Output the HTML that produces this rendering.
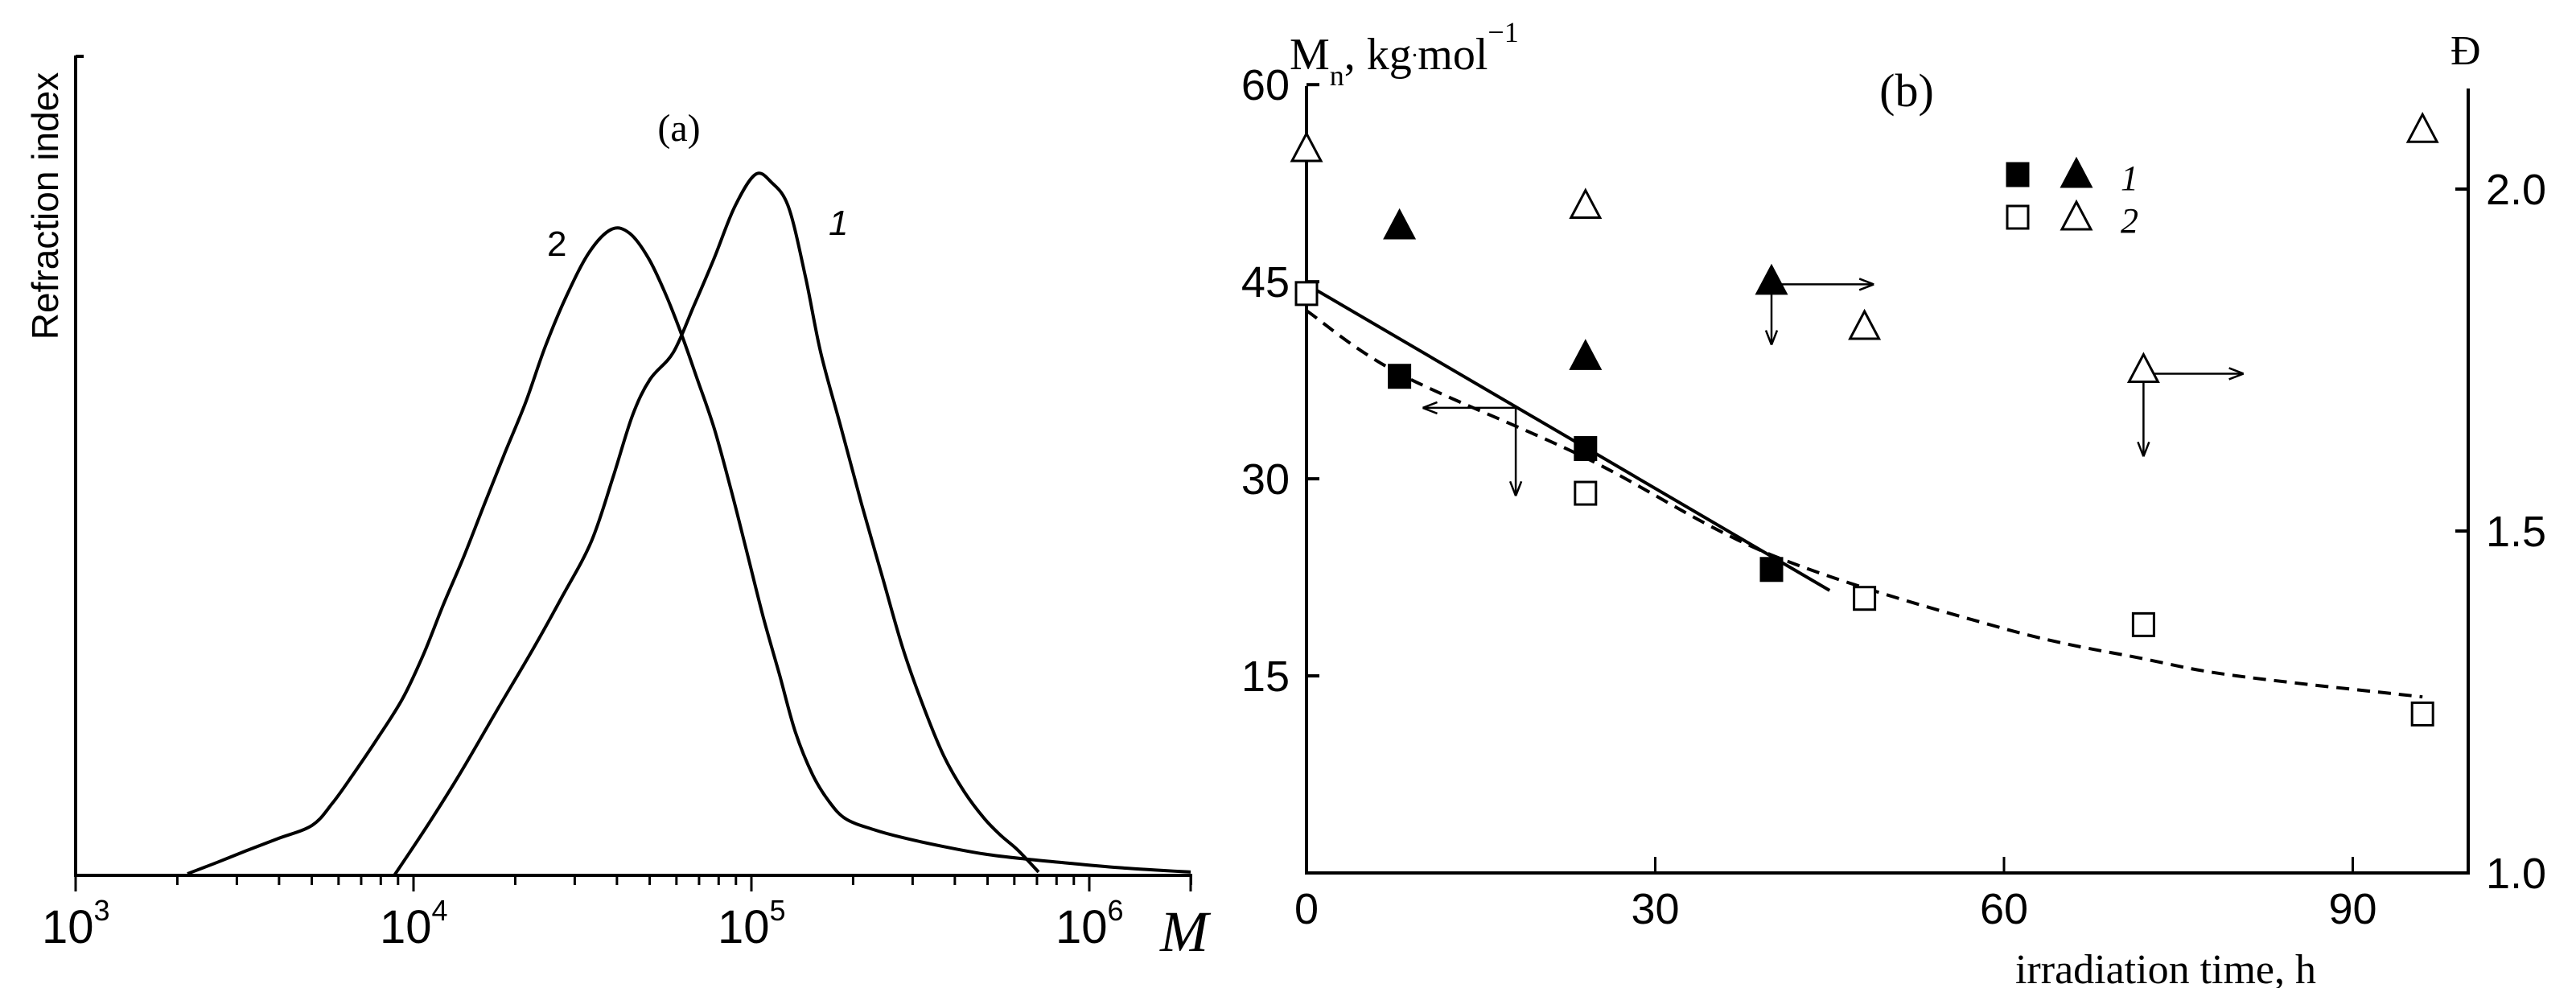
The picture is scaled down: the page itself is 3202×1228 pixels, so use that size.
<!DOCTYPE html>
<html><head><meta charset="utf-8"><style>
html,body{margin:0;padding:0;background:#fff}
svg{display:block}
.s{font-family:"Liberation Sans",sans-serif}
.r{font-family:"Liberation Serif",serif}
</style></head><body>
<svg id="c" width="3202" height="1228" viewBox="0 0 3202 1228" xmlns="http://www.w3.org/2000/svg">
<g id="pa"></g>
<g id="pb"></g>
</svg>
<script>
// ---- Panel (a) data: log10(M) and signal (0..100) ----
const curve1LogM = [3.943,4.040,4.136,4.245,4.355,4.440,4.526,4.590,4.648,4.700,4.769,4.830,4.890,4.950,5.012,5.060,5.110,5.160,5.205,5.266,5.326,5.387,5.448,5.510,5.569,5.630,5.690,5.740,5.788,5.850];
const curve1Val  = [0,6.0,12.3,20.0,27.7,34.0,40.7,48.5,56.1,60.5,63.8,69.5,75.3,81.5,85.5,84.5,81.5,73.0,63.8,54.5,45.3,36.5,27.7,20.5,14.6,10.2,6.9,4.8,3.1,0.4];
const curve2LogM = [3.331,3.420,3.505,3.600,3.700,3.760,3.821,3.890,3.967,4.030,4.088,4.150,4.210,4.270,4.331,4.390,4.452,4.520,4.586,4.640,4.695,4.745,4.793,4.840,4.890,4.940,4.988,5.035,5.083,5.130,5.181,5.230,5.279,5.360,5.448,5.570,5.690,5.810,5.936,6.100,6.300];
const curve2Val  = [0.2,1.6,3.0,4.5,6.1,8.8,12.3,16.5,21.5,27.0,33.0,39.0,45.3,51.5,57.6,64.5,70.6,76.0,78.8,78.3,75.3,71.0,66.0,60.5,54.5,47.0,39.2,31.5,24.5,17.5,12.3,9.0,6.9,5.6,4.6,3.5,2.6,2.0,1.5,0.9,0.4];
const aDecades = [3,4,5,6];
// ---- Panel (b) data ----
const mn1Time = [8,24,40];
const mn1Val  = [37.8,32.3,23.1];
const mn2Time = [0,24,48,72,96];
const mn2Val  = [44.1,28.9,20.9,18.9,12.1];
const d1Time = [8,24,40];
const d1Val  = [1.947,1.756,1.866];
const d2Time = [0,24,48,72,96];
const d2Val  = [2.06,1.977,1.80,1.737,2.088];
const solidTime = [0,45];
const solidVal  = [44.8,21.5];
const dashTime = [0,8,24,40,60,72,80,96];
const dashVal  = [42.8,38.0,31.6,24.2,18.6,16.3,15.0,13.4];
const bXTicks = [0,30,60,90];
const bYTicks = [15,30,45,60];
const bDTicks = [1.0,1.5,2.0];

const NS="http://www.w3.org/2000/svg";
function mk(parent,tag,attrs,text){const e=document.createElementNS(NS,tag);for(const k in attrs)e.setAttribute(k,attrs[k]);if(text!==undefined)e.textContent=text;parent.appendChild(e);return e;}
function smooth(P){let d='M'+P[0][0].toFixed(1)+' '+P[0][1].toFixed(1);
 for(let i=0;i<P.length-1;i++){const p0=P[Math.max(0,i-1)],p1=P[i],p2=P[i+1],p3=P[Math.min(P.length-1,i+2)];
  d+=' C'+(p1[0]+(p2[0]-p0[0])/6).toFixed(1)+' '+(p1[1]+(p2[1]-p0[1])/6).toFixed(1)+' '+(p2[0]-(p3[0]-p1[0])/6).toFixed(1)+' '+(p2[1]-(p3[1]-p1[1])/6).toFixed(1)+' '+p2[0].toFixed(1)+' '+p2[1].toFixed(1);}
 return d;}

// ---------- Panel A ----------
const pa=document.getElementById('pa');
const ax=l=>94+(l-3)*420;
const ay=v=>1088-v*10.19;
let e;
e=mk(pa,'line',{x1:94,y1:69,x2:94,y2:1090,stroke:'#000','stroke-width':4});

e=mk(pa,'line',{x1:94,y1:70,x2:104,y2:70,stroke:'#000','stroke-width':4});

e=mk(pa,'line',{x1:92,y1:1088,x2:1482,y2:1088,stroke:'#000','stroke-width':4});

for(let d=3;d<=6;d++){for(let m=1;m<=9;m++){const l=d+Math.log10(m);if(ax(l)>1482)break;
 e=mk(pa,'line',{x1:ax(l),y1:1088,x2:ax(l),y2:m===1?1108:1100,stroke:'#000','stroke-width':3});
 }}
e=mk(pa,'line',{x1:1480,y1:1088,x2:1480,y2:1108,stroke:'#000','stroke-width':3});

aDecades.forEach(d=>{const t=mk(pa,'text',{x:ax(d)-42,y:1172,'font-size':58,class:'s'});
 
 t.textContent='10';mk(t,'tspan',{'font-size':36,dy:-28},String(d));});
e=mk(pa,'text',{x:1442,y:1182,'font-size':72,'font-style':'italic',class:'r'},'M');

e=mk(pa,'text',{x:0,y:0,'font-size':46,class:'s','text-anchor':'middle',transform:'translate(72,256) rotate(-90)'},'Refraction index');

e=mk(pa,'text',{x:844,y:175,'font-size':48,class:'r','text-anchor':'middle'},'(a)');

e=mk(pa,'path',{d:smooth(curve1LogM.map((l,i)=>[ax(l),ay(curve1Val[i])])),fill:'none',stroke:'#000','stroke-width':4,'stroke-linejoin':'round'});

e=mk(pa,'path',{d:smooth(curve2LogM.map((l,i)=>[ax(l),ay(curve2Val[i])])),fill:'none',stroke:'#000','stroke-width':4,'stroke-linejoin':'round'});

e=mk(pa,'text',{x:680,y:318,'font-size':44,class:'s'},'2');

e=mk(pa,'text',{x:1030,y:292,'font-size':44,class:'s','font-style':'italic'},'1');


// ---------- Panel B ----------
const pb=document.getElementById('pb');
const bx=t=>1624+t*14.45;
const by=v=>1085-v*16.33;
const bd=d=>1085-(d-1)*850;
e=mk(pb,'path',{d:'M1624 107 L1624 1087 M1622 1085 L3068 1085 L3068 110',fill:'none',stroke:'#000','stroke-width':4});

bYTicks.forEach(v=>{e=mk(pb,'line',{x1:1624,y1:by(v),x2:1640,y2:by(v),stroke:'#000','stroke-width':4});
 
 e=mk(pb,'text',{x:1603,y:by(v)+19,'font-size':54,class:'s','text-anchor':'end'},String(v));
 });
bXTicks.forEach(v=>{e=mk(pb,'line',{x1:bx(v),y1:1085,x2:bx(v),y2:1065,stroke:'#000','stroke-width':3});
 
 e=mk(pb,'text',{x:bx(v),y:1148,'font-size':54,class:'s','text-anchor':'middle'},String(v));
 });
bDTicks.forEach(v=>{e=mk(pb,'line',{x1:3068,y1:bd(v),x2:3052,y2:bd(v),stroke:'#000','stroke-width':4});
 
 e=mk(pb,'text',{x:3090,y:bd(v)+19,'font-size':54,class:'s'},v.toFixed(1));
 });
e=mk(pb,'text',{x:1603,y:86,'font-size':56,class:'r'});

e.textContent='M';mk(e,'tspan',{'font-size':36,dy:20},'n');mk(e,'tspan',{dy:-20},', kg');mk(e,'tspan',{'font-size':30,dy:-16},'.');mk(e,'tspan',{dy:16},'mol');mk(e,'tspan',{'font-size':36,dy:-34},'\u22121');
e=mk(pb,'text',{x:3046,y:80,'font-size':52,class:'r'},'Đ');

e=mk(pb,'text',{x:2370,y:132,'font-size':58,class:'r','text-anchor':'middle'},'(b)');

e=mk(pb,'text',{x:2692,y:1222,'font-size':52,class:'r','text-anchor':'middle'},'irradiation time, h');

e=mk(pb,'path',{d:solidTime.map((t,i)=>(i?'L':'M')+bx(t)+' '+by(solidVal[i])).join(' '),fill:'none',stroke:'#000','stroke-width':4});

e=mk(pb,'path',{d:smooth(dashTime.map((t,i)=>[bx(t),by(dashVal[i])])),fill:'none',stroke:'#000','stroke-width':4,'stroke-dasharray':'16 10'});

function arrow(t1,v1,t2,v2){const x1=bx(t1),y1=by(v1),x2=bx(t2),y2=by(v2);const g=mk(pb,'g',{});
 
 mk(g,'line',{x1:x1,y1:y1,x2:x2,y2:y2,stroke:'#000','stroke-width':2.5});
 const a=Math.atan2(y2-y1,x2-x1),L=18,w=7;
 mk(g,'path',{d:`M${x2} ${y2} L${x2-L*Math.cos(a)+w*Math.sin(a)} ${y2-L*Math.sin(a)-w*Math.cos(a)} M${x2} ${y2} L${x2-L*Math.cos(a)-w*Math.sin(a)} ${y2-L*Math.sin(a)+w*Math.cos(a)}`,stroke:'#000','stroke-width':2.5,fill:'none'});}
arrow(18,35.4,10,35.4);arrow(18,35.4,18,28.7);
arrow(40,44.8,48.8,44.8);arrow(40,44.8,40,40.2);
arrow(72,38,80.6,38);arrow(72,38,72,31.7);
function sq(x,y,filled,name){const r=mk(pb,'rect',{x:x-13,y:y-14,width:26,height:28,fill:filled?'#000':'#fff',stroke:'#000','stroke-width':3});
 }
function tri(x,y,filled,name){const p=mk(pb,'path',{d:`M${x} ${y-18} L${x+18} ${y+16} L${x-18} ${y+16} Z`,fill:filled?'#000':'#fff',stroke:'#000','stroke-width':3});
 }
mn1Time.forEach((t,i)=>sq(bx(t),by(mn1Val[i]),true,'mn-point-series1'));
mn2Time.forEach((t,i)=>sq(bx(t),by(mn2Val[i]),false,'mn-point-series2'));
d1Time.forEach((t,i)=>tri(bx(t),bd(d1Val[i]),true,'dispersity-point-series1'));
d2Time.forEach((t,i)=>tri(bx(t),bd(d2Val[i]),false,'dispersity-point-series2'));
sq(2508,217,true,'legend-square-1');tri(2581,216,true,'legend-triangle-1');
sq(2508,270,false,'legend-square-2');tri(2581,269,false,'legend-triangle-2');
e=mk(pb,'text',{x:2636,y:236,'font-size':44,class:'r','font-style':'italic'},'1');

e=mk(pb,'text',{x:2636,y:289,'font-size':44,class:'r','font-style':'italic'},'2');

</script>
</body></html>
